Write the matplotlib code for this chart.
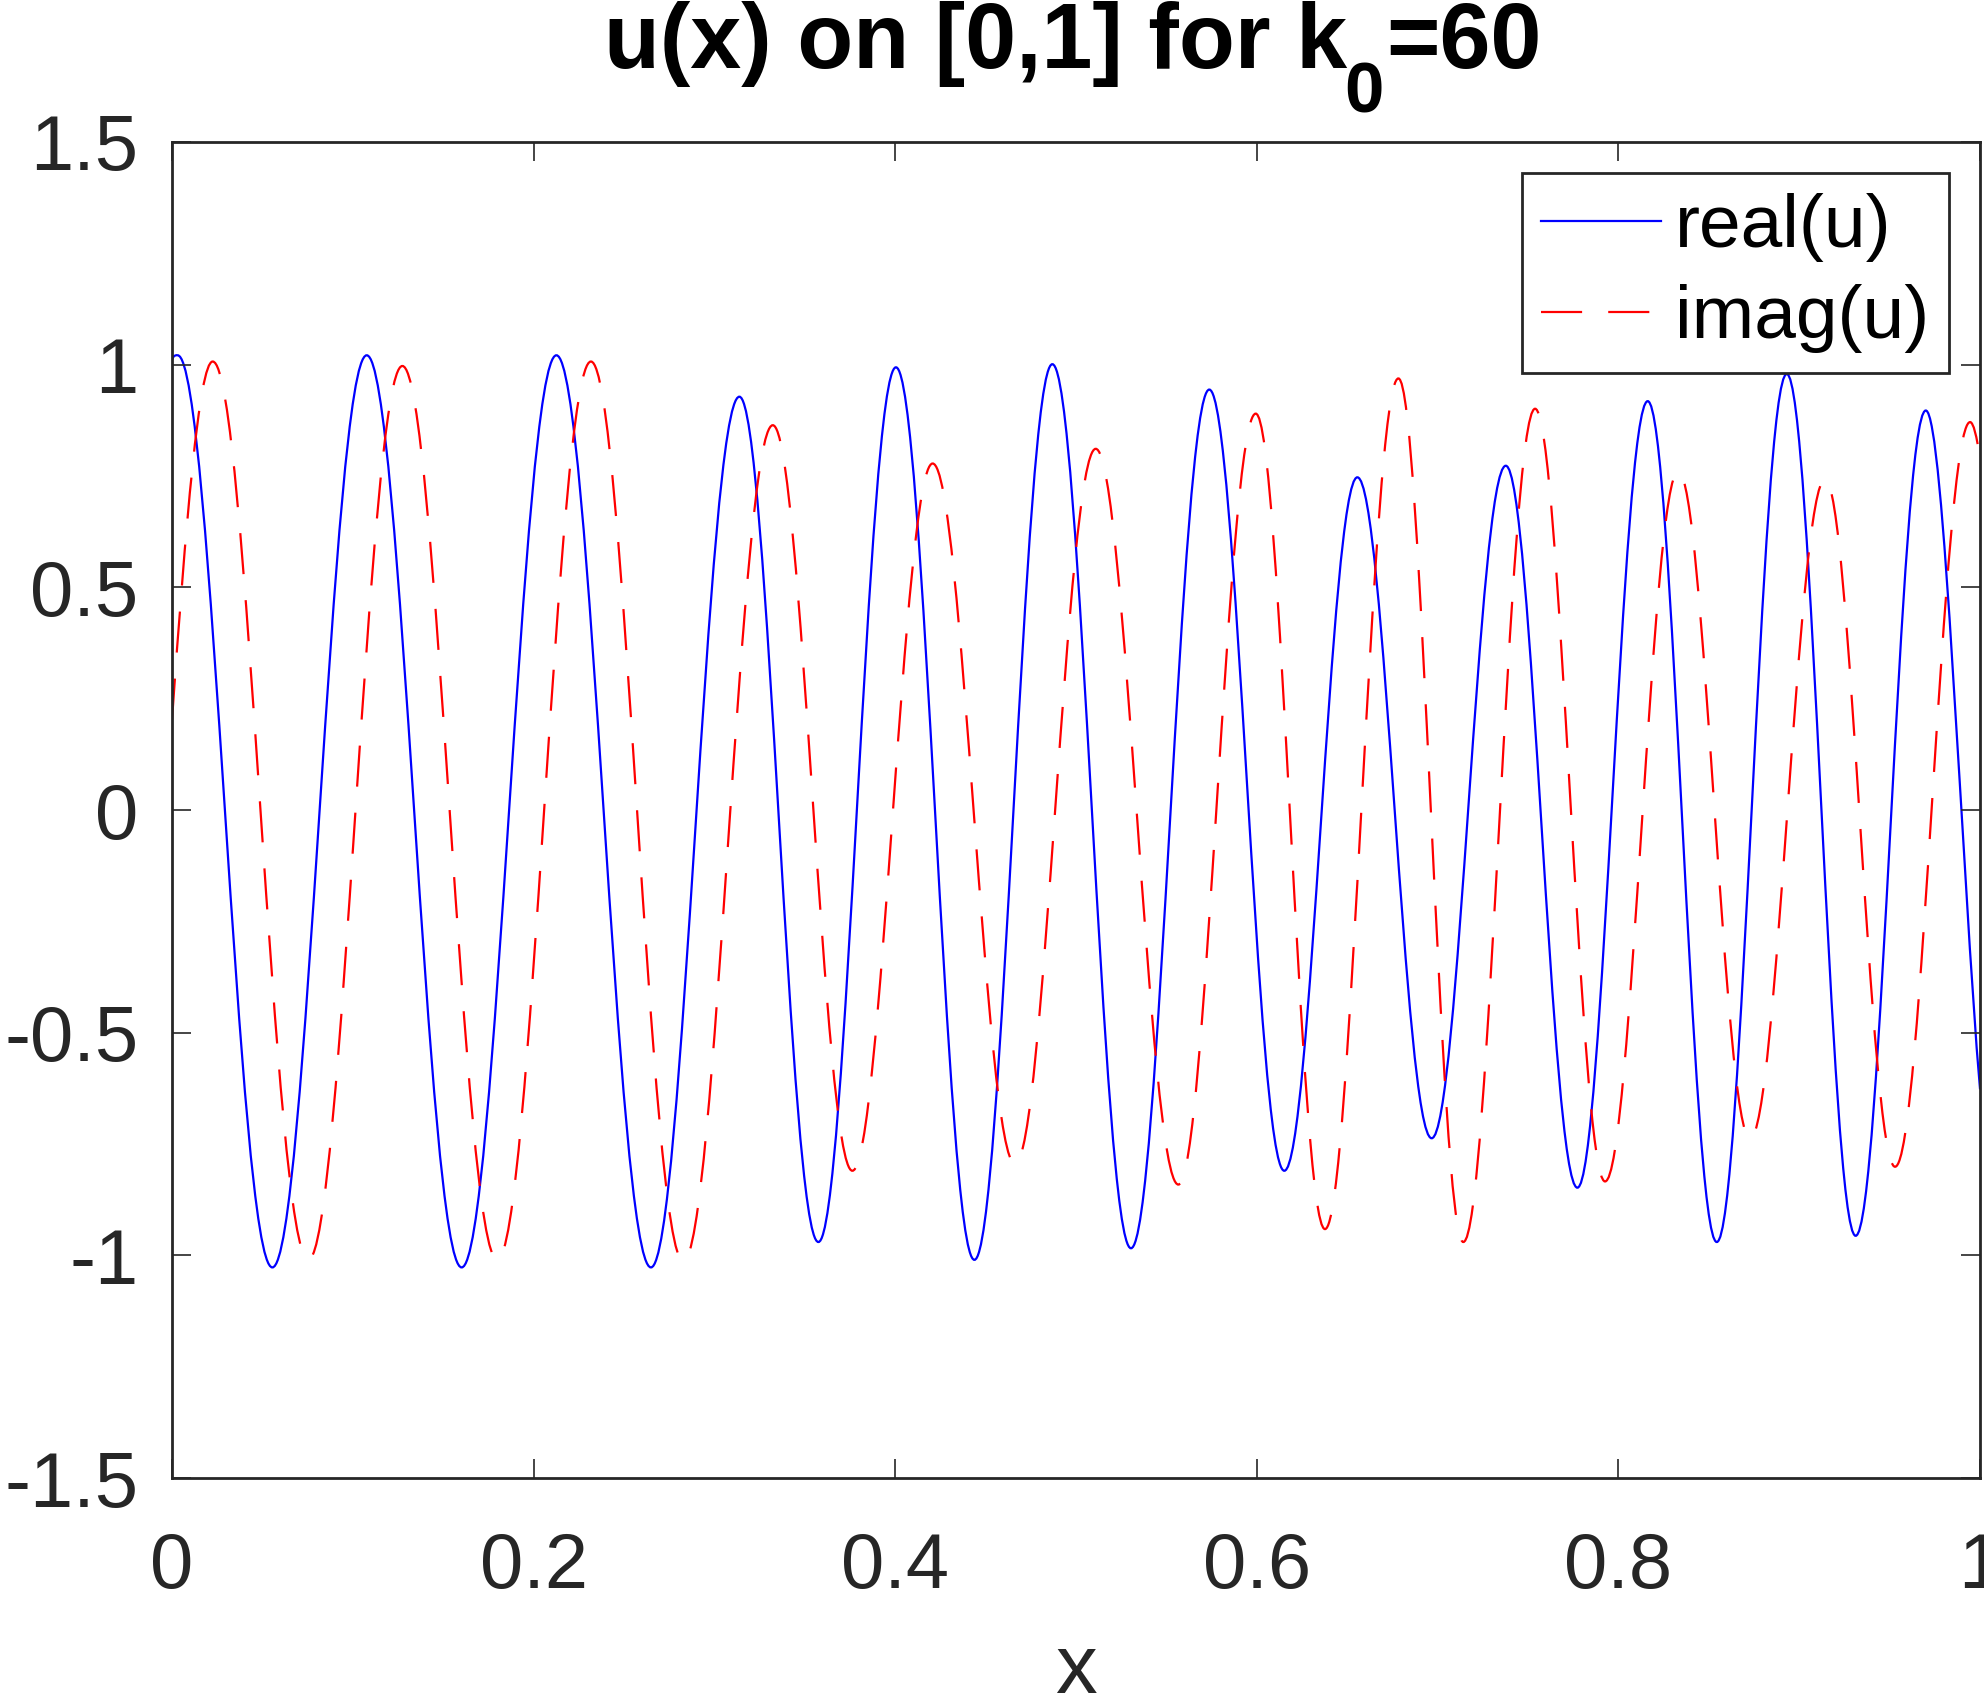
import numpy as np
import matplotlib
matplotlib.use('Agg')
from matplotlib import pyplot as plt
from matplotlib.path import Path
from matplotlib.patches import PathPatch

plt.rcParams['font.family'] = ['Liberation Sans', 'DejaVu Sans']

# extrema of real(u), plus the values at x=0 and x=1
real_x = [0.0031, 0.0555, 0.1077, 0.1602, 0.2126, 0.2649, 0.3138, 0.3575,
          0.4004, 0.4438, 0.4869, 0.5304, 0.5737, 0.6152, 0.6556, 0.6967,
          0.7377, 0.7773, 0.8162, 0.8544, 0.8931, 0.9312, 0.9700]
real_y = [1.021, -1.027, 1.021, -1.027, 1.021, -1.027, 0.928, -0.970,
          0.994, -1.010, 1.001, -0.984, 0.944, -0.810, 0.747, -0.737,
          0.773, -0.848, 0.918, -0.970, 0.979, -0.956, 0.897]
real_ends = (1.011, -0.627)

# extrema of imag(u)
imag_x = [0.0225, 0.0754, 0.1274, 0.1799, 0.2317, 0.2828, 0.3323, 0.3763,
          0.4207, 0.4663, 0.5109, 0.5566, 0.5994, 0.6377, 0.6783, 0.7142,
          0.7539, 0.7926, 0.8331, 0.8728, 0.9143, 0.9530, 0.9945]
imag_y = [1.007, -1.010, 0.997, -1.010, 1.007, -1.013, 0.864, -0.810,
          0.778, -0.795, 0.811, -0.841, 0.890, -0.941, 0.969, -0.970,
          0.901, -0.834, 0.761, -0.738, 0.743, -0.801, 0.871]
imag_ends = (0.203, 0.79)

x_ticks = [0, 0.2, 0.4, 0.6, 0.8, 1]
x_labels = ['0', '0.2', '0.4', '0.6', '0.8', '1']
y_ticks = [-1.5, -1, -0.5, 0, 0.5, 1, 1.5]
y_labels = ['-1.5', '-1', '-0.5', '0', '0.5', '1', '1.5']


def wave_path(xe, ye, ends, k=0.3642):
    """Smooth path through the extrema (horizontal tangents there)."""
    x0, x1 = 0.0, 1.0
    y0, y1 = ends
    verts = [(x0, y0)]
    codes = [Path.MOVETO]
    # lead-in from x=0 to the first extremum
    half = xe[1] - xe[0]
    dx = xe[0] - x0
    s = -ye[0] * np.pi / half * np.sin(np.pi * (x0 - xe[0]) / half)
    verts += [(x0 + dx / 3, y0 + s * dx / 3), (xe[0] - dx / 3, ye[0]), (xe[0], ye[0])]
    codes += [Path.CURVE4] * 3
    for i in range(len(xe) - 1):
        dx = xe[i + 1] - xe[i]
        verts += [(xe[i] + k * dx, ye[i]), (xe[i + 1] - k * dx, ye[i + 1]), (xe[i + 1], ye[i + 1])]
        codes += [Path.CURVE4] * 3
    # tail from last extremum to x=1
    half = xe[-1] - xe[-2]
    dx = x1 - xe[-1]
    s = -ye[-1] * np.pi / half * np.sin(np.pi * dx / half)
    verts += [(xe[-1] + dx / 3, ye[-1]), (x1 - dx / 3, y1 - s * dx / 3), (x1, y1)]
    codes += [Path.CURVE4] * 3
    return Path(verts, codes)


lw = 0.8
dash = (0, (18.5, 11.75))

fig = plt.figure(figsize=(9.92, 8.48), dpi=200)
ax = fig.add_axes([0.0867, 0.1285, 0.9113, 0.7878])

ax.add_patch(PathPatch(wave_path(real_x, real_y, real_ends), fill=False,
                       edgecolor='#0000ff', linewidth=lw, linestyle='-'))
ax.add_patch(PathPatch(wave_path(imag_x, imag_y, imag_ends), fill=False,
                       edgecolor='#ff0000', linewidth=lw, linestyle=dash))

# legend handles
ax.plot([], [], color='#0000ff', lw=lw, label='real(u)')
ax.plot([], [], color='#ff0000', lw=lw, linestyle=dash, label='imag(u)')

ax.set_xlim(0, 1)
ax.set_ylim(-1.5, 1.5)
ax.set_xticks(x_ticks)
ax.set_xticklabels(x_labels)
ax.set_yticks(y_ticks)
ax.set_yticklabels(y_labels)
ax.tick_params(direction='in', length=7, width=0.6, color='#262626',
               top=True, right=True, labelsize=28, labelcolor='#262626')
ax.tick_params(axis='x', pad=19)
ax.tick_params(axis='y', pad=12)
for sp in ax.spines.values():
    sp.set_color('#262626')
    sp.set_linewidth(1.0)

ax.set_xlabel('x', fontsize=30, color='#262626', labelpad=10)

# title in pieces so the subscript sits low like MATLAB's
base_y = 0.9599
t1 = fig.text(0.3045, base_y, 'u(x) on [0,1] for k', fontsize=33,
              fontweight='bold', ha='left', va='baseline')
t2 = ax.annotate('0', xy=(1, base_y), xycoords=(t1, 'figure fraction'),
                 xytext=(-1, -16), textcoords='offset points', fontsize=25.5,
                 fontweight='bold', ha='left', va='baseline',
                 annotation_clip=False)
ax.annotate('=60', xy=(1, base_y), xycoords=(t2, 'figure fraction'),
            xytext=(1, 0), textcoords='offset points', fontsize=33,
            fontweight='bold', ha='left', va='baseline', annotation_clip=False)

leg = ax.legend(loc='upper right', fontsize=27, frameon=True, fancybox=False,
                framealpha=1, edgecolor='#262626', handlelength=1.6,
                handletextpad=0.18, labelspacing=0.3, borderpad=0.26,
                borderaxespad=0.42)
leg.get_frame().set_linewidth(1.0)

fig.savefig('out.png', dpi=200)
